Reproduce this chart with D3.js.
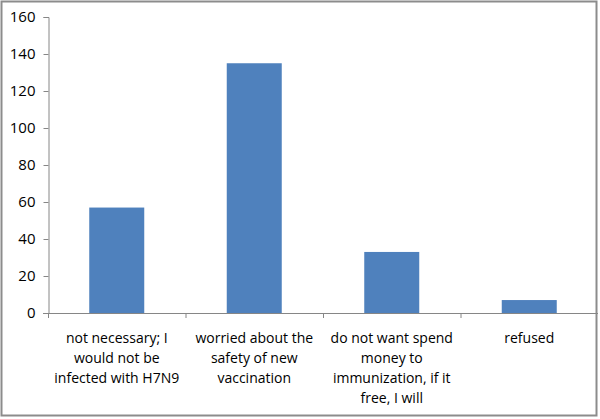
<!DOCTYPE html>
<html>
<head>
<meta charset="utf-8">
<script src="https://cdn.jsdelivr.net/npm/d3@7"></script>
<style>
body { margin: 0; background: #fff; }
text { font-family: "Open Sans", "Noto Sans", sans-serif; fill: #000; }
</style>
</head>
<body>
<svg id="chart" width="600" height="419"></svg>
<script>
var categories = [
	["not necessary; I", "would not be", "infected with H7N9"],
	["worried about the", "safety of new", "vaccination"],
	["do not want spend", "money to", "immunization, if it", "free, I will"],
	["refused"]
];
var values = [57, 135, 33, 7];
var yTicks = [0, 20, 40, 60, 80, 100, 120, 140, 160];

function drawChart()
{
	var svg = d3.select("#chart");
	var left = 48, right = 598, top = 17, bottom = 313;

	// outer frame
	svg.append("rect")
		.attr("x", 1.5).attr("y", 1.5)
		.attr("width", 595).attr("height", 414)
		.attr("fill", "#fff")
		.attr("stroke", "#8c8c8c")
		.attr("stroke-width", 2);

	var x = d3.scaleBand()
		.domain(d3.range(values.length))
		.range([left, right])
		.paddingInner(0.6)
		.paddingOuter(0.3);

	var y = d3.scaleLinear()
		.domain([0, 160])
		.range([bottom, top]);

	var yAxis = d3.axisLeft(y).tickValues(yTicks).tickSize(5).tickPadding(8);
	var gy = svg.append("g")
		.attr("transform", "translate(" + (left + 0.5) + ",0)")
		.call(yAxis);
	gy.select(".domain").attr("stroke", "#868686");
	gy.selectAll(".tick line").attr("stroke", "#868686");
	gy.selectAll(".tick text")
		.style("font-size", "15px")
		.attr("fill", "#000");

	svg.selectAll(".bar")
		.data(values)
		.enter()
		.append("rect")
		.attr("class", "bar")
		.attr("x", function(d, i) { return x(i); })
		.attr("y", function(d) { return y(d); })
		.attr("width", x.bandwidth())
		.attr("height", function(d) { return bottom - y(d); })
		.attr("fill", "#4f81bd");

	// category axis
	var step = (right - left) / values.length;
	var catScale = d3.scaleLinear().domain([0, values.length]).range([left, right]);
	svg.append("line")
		.attr("x1", left - 5).attr("x2", right)
		.attr("y1", bottom + 0.5).attr("y2", bottom + 0.5)
		.attr("stroke", "#868686");
	svg.selectAll(".ctick")
		.data(d3.range(values.length))
		.enter()
		.append("line")
		.attr("x1", function(d) { return catScale(d) + 0.5; })
		.attr("x2", function(d) { return catScale(d) + 0.5; })
		.attr("y1", bottom)
		.attr("y2", bottom + 5)
		.attr("stroke", "#868686");

	var labels = svg.selectAll(".clabel")
		.data(categories)
		.enter()
		.append("text")
		.attr("class", "clabel")
		.attr("text-anchor", "middle")
		.style("font-size", "14px")
		.attr("transform", function(d, i) {
			return "translate(" + (catScale(i) + step / 2) + "," + (bottom + 30) + ")";
		});
	labels.selectAll("tspan")
		.data(function(d) { return d; })
		.enter()
		.append("tspan")
		.attr("x", 0)
		.attr("y", function(d, i) { return i * 20; })
		.text(function(d) { return d; });
}

drawChart();
</script>
</body>
</html>
